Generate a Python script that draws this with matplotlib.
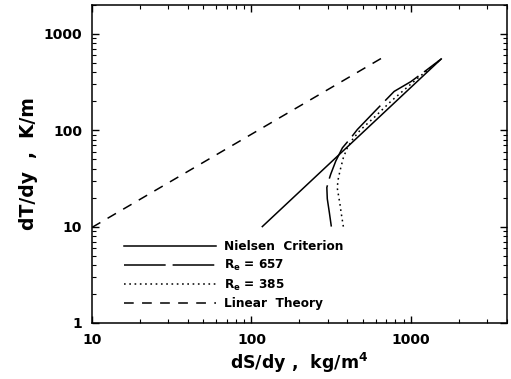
import matplotlib
matplotlib.use("Agg")
import matplotlib.pyplot as plt

plt.rcParams['font.family'] = ['DejaVu Sans']
plt.rcParams['font.weight'] = 'bold'
plt.rcParams['mathtext.fontset'] = 'custom'
plt.rcParams['mathtext.rm'] = 'DejaVu Sans:bold'
plt.rcParams['mathtext.it'] = 'DejaVu Sans:bold'
plt.rcParams['mathtext.bf'] = 'DejaVu Sans:bold'
plt.rcParams['lines.scale_dashes'] = False

# Nielsen criterion (straight line in log-log)
nielsen_ds = [117, 1550]
nielsen_dt = [10, 550]

# Re = 657
re657_ds = [317, 308, 299, 297, 305, 314, 338, 372, 420, 462, 600, 785, 1000, 1250, 1550]
re657_dt = [10, 14, 19.4, 25.4, 30, 34.9, 47.9, 65.7, 83.3, 102, 160, 253, 320, 420, 550]

# Re = 385
re385_ds = [377, 365, 359, 345, 350, 359, 377, 399, 430, 480, 600, 750, 1110, 1550]
re385_dt = [10, 14, 17.1, 25.4, 31, 37.8, 51.8, 65.7, 80, 100, 140, 200, 350, 550]

# Linear theory
linear_ds = [10, 650]
linear_dt = [9.8, 556]

fig = plt.figure(figsize=(5.11, 3.79), dpi=100)
ax = fig.add_axes([0.180, 0.148, 0.812, 0.839])

lw = 1.1
ax.plot(nielsen_ds, nielsen_dt, color='black', lw=lw, label='Nielsen  Criterion')
ax.plot(re657_ds, re657_dt, color='black', lw=lw, dashes=(30, 5), label=r'R$_{e}$ = 657')
ax.plot(re385_ds, re385_dt, color='black', lw=lw, dashes=(1.2, 2.6), label=r'R$_{e}$ = 385')
ax.plot(linear_ds, linear_dt, color='black', lw=lw, dashes=(7, 6), label='Linear  Theory')

ax.set_xscale('log')
ax.set_yscale('log')
ax.set_xlim(10, 4000)
ax.set_ylim(1, 2000)

ax.set_xticks([10, 100, 1000])
ax.set_xticklabels(['10', '100', '1000'])
ax.set_yticks([1, 10, 100, 1000])
ax.set_yticklabels(['1', '10', '100', '1000'])

ax.tick_params(which='both', direction='in', top=True, right=True, labelsize=10, pad=7)
ax.tick_params(which='major', length=5, width=1)
ax.tick_params(which='minor', length=3, width=0.8)
for lab in ax.get_xticklabels() + ax.get_yticklabels():
    lab.set_fontweight('bold')

for sp in ax.spines.values():
    sp.set_linewidth(1.1)

ax.set_xlabel(r'dS/dy ,  kg/m$^{4}$', fontsize=12.5, fontweight='bold', labelpad=3)
ax.set_ylabel('dT/dy  ,  K/m', fontsize=13.5, fontweight='bold', labelpad=4)

leg = ax.legend(loc='lower left', bbox_to_anchor=(0.077, 0.04), frameon=False,
                borderpad=0, borderaxespad=0,
                handlelength=7.6, handletextpad=0.7, labelspacing=0.38,
                prop={'size': 8.7, 'weight': 'bold'})

fig.savefig('out.png', dpi=100)
